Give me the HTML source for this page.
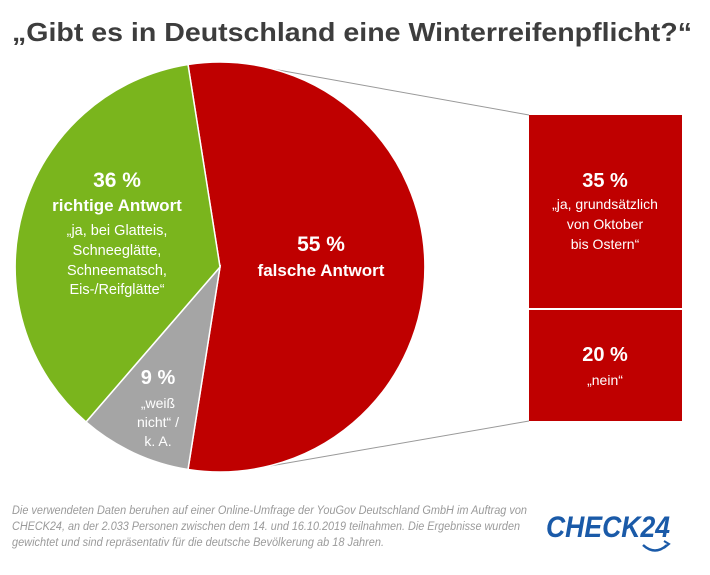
<!DOCTYPE html>
<html><head><meta charset="utf-8"><style>
body{margin:0;background:#fff;width:710px;height:570px;overflow:hidden}
svg text{font-family:"Liberation Sans",sans-serif}
</style></head><body>
<svg width="710" height="570" viewBox="0 0 710 570" xmlns="http://www.w3.org/2000/svg">
<text x="12" y="41" font-size="26" font-weight="bold" fill="#3d3d3d" textLength="680" lengthAdjust="spacingAndGlyphs">„Gibt es in Deutschland eine Winterreifenpflicht?“</text>
<line x1="267" y1="68" x2="529" y2="115" stroke="#999" stroke-width="1"/>
<line x1="270" y1="466" x2="529" y2="421" stroke="#999" stroke-width="1"/>
<g stroke="#fff" stroke-width="1.5">
<path d="M220,267 L188,64.5 A205,205 0 1 1 188,469.5 Z" fill="#bf0000"/>
<path d="M220,267 L188,469.5 A205,205 0 0 1 86,422 Z" fill="#a5a5a5"/>
<path d="M220,267 L86,422 A205,205 0 0 1 188,64.5 Z" fill="#7ab51d"/>
</g>
<rect x="529" y="115" width="153" height="193" fill="#bf0000"/>
<rect x="529" y="310" width="153" height="111" fill="#bf0000"/>
<g fill="#fff" text-anchor="middle">
<text x="117" y="187" font-size="21" font-weight="bold">36 %</text>
<text x="117" y="211" font-size="17" font-weight="bold">richtige Antwort</text>
<text x="117" y="235" font-size="14.5">„ja, bei Glatteis,</text>
<text x="117" y="255" font-size="14.5">Schneeglätte,</text>
<text x="117" y="275" font-size="14.5">Schneematsch,</text>
<text x="117" y="294" font-size="14.5">Eis-/Reifglätte“</text>
<text x="321" y="251" font-size="21" font-weight="bold">55 %</text>
<text x="321" y="276" font-size="17" font-weight="bold">falsche Antwort</text>
<text x="158" y="384" font-size="20" font-weight="bold">9 %</text>
<text x="158" y="408" font-size="14">„weiß</text>
<text x="158" y="427" font-size="14">nicht“ /</text>
<text x="158" y="446" font-size="14">k. A.</text>
<text x="605" y="187" font-size="20" font-weight="bold">35 %</text>
<text x="605" y="209" font-size="14">„ja, grundsätzlich</text>
<text x="605" y="229" font-size="14">von Oktober</text>
<text x="605" y="249" font-size="14">bis Ostern“</text>
<text x="605" y="361" font-size="20" font-weight="bold">20 %</text>
<text x="605" y="385" font-size="14">„nein“</text>
</g>
<g fill="#9a9a9a" font-size="11.5" font-style="italic">
<text x="12" y="514" textLength="515" lengthAdjust="spacingAndGlyphs">Die verwendeten Daten beruhen auf einer Online-Umfrage der YouGov Deutschland GmbH im Auftrag von</text>
<text x="12" y="530" textLength="508" lengthAdjust="spacingAndGlyphs">CHECK24, an der 2.033 Personen zwischen dem 14. und 16.10.2019 teilnahmen. Die Ergebnisse wurden</text>
<text x="12" y="546" textLength="372" lengthAdjust="spacingAndGlyphs">gewichtet und sind repräsentativ für die deutsche Bevölkerung ab 18 Jahren.</text>
</g>
<text x="546" y="537" font-size="30" font-weight="bold" font-style="italic" fill="#1a5aa8" textLength="124" lengthAdjust="spacingAndGlyphs">CHECK24</text>
<path d="M643,545 Q655,556 667,545" fill="none" stroke="#1a5aa8" stroke-width="2.5"/>
<path d="M664,541 L669,544 L664,548" fill="none" stroke="#1a5aa8" stroke-width="2"/>
</svg>
</body></html>
